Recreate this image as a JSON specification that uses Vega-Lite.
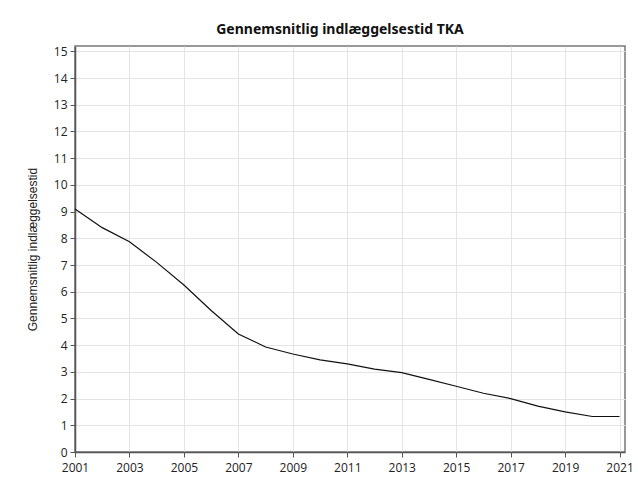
{
  "$schema": "https://vega.github.io/schema/vega-lite/v6.json",
  "autosize": "none",
  "width": 550,
  "height": 406,
  "padding": {"left": 75, "top": 46, "right": 13, "bottom": 31},
  "background": "white",
  "title": {
    "text": "Gennemsnitlig indlæggelsestid TKA",
    "font": "Noto Sans",
    "fontSize": 14,
    "fontWeight": "bold",
    "color": "#111",
    "anchor": "middle",
    "dx": -10,
    "offset": 8
  },
  "data": {
    "values": [
      {"year": 2001, "days": 9.1},
      {"year": 2002, "days": 8.4},
      {"year": 2003, "days": 7.87},
      {"year": 2004, "days": 7.1},
      {"year": 2005, "days": 6.25},
      {"year": 2006, "days": 5.3},
      {"year": 2007, "days": 4.42},
      {"year": 2008, "days": 3.93},
      {"year": 2009, "days": 3.67},
      {"year": 2010, "days": 3.45},
      {"year": 2011, "days": 3.3},
      {"year": 2012, "days": 3.1},
      {"year": 2013, "days": 2.97},
      {"year": 2014, "days": 2.72},
      {"year": 2015, "days": 2.46},
      {"year": 2016, "days": 2.2},
      {"year": 2017, "days": 2.0},
      {"year": 2018, "days": 1.72},
      {"year": 2019, "days": 1.5},
      {"year": 2020, "days": 1.33},
      {"year": 2021, "days": 1.33}
    ]
  },
  "mark": {"type": "line", "color": "#111", "strokeWidth": 1.2},
  "encoding": {
    "x": {
      "field": "year",
      "type": "quantitative",
      "scale": {"domain": [2001, 2021.2], "nice": false, "zero": false},
      "axis": {
        "title": null,
        "values": [2001, 2003, 2005, 2007, 2009, 2011, 2013, 2015, 2017, 2019, 2021],
        "format": "d",
        "labelFont": "Open Sans",
        "labelFontSize": 12,
        "labelColor": "#222",
        "labelPadding": 5,
        "tickSize": 5,
        "tickColor": "#555",
        "domainColor": "#555",
        "domainWidth": 1.5,
        "gridColor": "#e4e4e4",
        "labelFlush": false
      }
    },
    "y": {
      "field": "days",
      "type": "quantitative",
      "scale": {"domain": [0, 15.2], "nice": false},
      "axis": {
        "title": "Gennemsnitlig indlæggelsestid",
        "titleFont": "Liberation Sans",
        "titleFontSize": 12,
        "titleFontWeight": "normal",
        "titleColor": "#222",
        "titlePadding": 14,
        "values": [0,1,2,3,4,5,6,7,8,9,10,11,12,13,14,15],
        "labelFont": "Open Sans",
        "labelFontSize": 12,
        "labelColor": "#222",
        "labelPadding": 3,
        "tickSize": 5,
        "tickColor": "#555",
        "domainColor": "#555",
        "domainWidth": 1.5,
        "gridColor": "#e4e4e4"
      }
    }
  },
  "config": {
    "view": {"stroke": "#777", "strokeWidth": 1.5}
  }
}
